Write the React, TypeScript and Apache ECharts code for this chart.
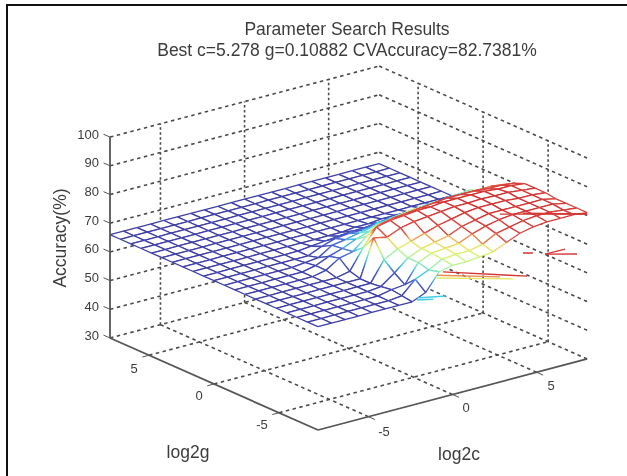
import React, { useEffect, useRef } from "react";
import * as echarts from "echarts";

const cGrid = [-8, -7.2, -6.4, -5.6, -4.8, -4, -3.2, -2.4, -1.6, -0.8, 0, 0.8, 1.6, 2.4, 3.2, 4, 4.8, 5.6, 6.4, 7.2, 8];
const gGrid = [-8, -7.2, -6.4, -5.6, -4.8, -4, -3.2, -2.4, -1.6, -0.8, 0, 0.8, 1.6, 2.4, 3.2, 4, 4.8, 5.6, 6.4, 7.2, 8];
// accuracy[gIndex][cIndex]
const accuracy = [
  [66, 66, 66, 66, 66, 66, 66, 66, 68, 74, 75, 75, 75.5, 76, 78, 80, 81, 81.5, 81.5, 81.5, 81],
  [66, 66, 66, 66, 66, 66, 66, 66.5, 71, 73, 75.5, 76, 76, 77, 79.5, 80.5, 81.5, 82, 82, 81.5, 81],
  [66, 66, 66, 66, 66, 66, 66, 67, 67.5, 74, 76, 76.5, 77, 79, 80.5, 81.5, 82, 82, 82, 82, 81],
  [66, 66, 66, 66, 66, 66, 66, 66.5, 70, 74, 76, 77, 78, 80, 81, 82, 82, 82, 82, 82, 81],
  [66, 66, 66, 66, 66, 66, 66, 66, 73, 75.5, 77, 78.5, 80, 81, 82, 82.5, 82.5, 82.5, 82, 82, 81.5],
  [66, 66, 66, 66, 66, 66, 66, 66, 79, 78, 80, 81, 81.5, 82, 82.5, 82.5, 82.7, 82.5, 82.5, 82, 81.5],
  [66, 66, 66, 66, 66, 66, 66, 67, 74, 80, 81, 81.5, 82, 82, 82.5, 82.5, 82.5, 82.5, 82, 82, 81.5],
  [66, 66, 66, 66, 66, 66, 67, 70, 71, 75, 78, 79, 79.5, 80, 80.5, 81, 81, 81, 80.5, 80.5, 80],
  [66, 66, 66, 66, 66, 66, 67, 69, 70.5, 72.5, 74, 75, 76, 77, 77.5, 78, 78.5, 78.5, 78.5, 78.5, 78],
  [66, 66, 66, 66, 66, 66, 66.5, 67, 70, 70.8, 71.8, 72.7, 73.5, 74.4, 75, 75, 75.5, 75.5, 75.5, 75.5, 75],
  [66, 66, 66, 66, 66, 66, 66, 66, 68, 69.5, 70, 70, 71, 71.5, 72, 72.5, 73, 73, 73.5, 74, 72],
  [66, 66, 66, 66, 66, 66, 66, 66, 66.5, 67, 67.5, 68, 68, 68.5, 69, 69, 70, 70, 71, 71, 69],
  [66, 66, 66, 66, 66, 66, 66, 66, 66, 66, 66, 66, 66.5, 66.5, 67, 67, 67, 67, 67, 67, 67],
  [66, 66, 66, 66, 66, 66, 66, 66, 66, 66, 66, 66, 66, 66, 66, 66, 66, 66, 66, 66, 66],
  [66, 66, 66, 66, 66, 66, 66, 66, 66, 66, 66, 66, 66, 66, 66, 66, 66, 66, 66, 66, 66],
  [66, 66, 66, 66, 66, 66, 66, 66, 66, 66, 66, 66, 66, 66, 66, 66, 66, 66, 66, 66, 66],
  [66, 66, 66, 66, 66, 66, 66, 66, 66, 66, 66, 66, 66, 66, 66, 66, 66, 66, 66, 66, 66],
  [66, 66, 66, 66, 66, 66, 66, 66, 66, 66, 66, 66, 66, 66, 66, 66, 66, 66, 66, 66, 66],
  [66, 66, 66, 66, 66, 66, 66, 66, 66, 66, 66, 66, 66, 66, 66, 66, 66, 66, 66, 66, 66],
  [66, 66, 66, 66, 66, 66, 66, 66, 66, 66, 66, 66, 66, 66, 66, 66, 66, 66, 66, 66, 66],
  [66, 66, 66, 66, 66, 66, 66, 66, 66, 66, 66, 66, 66, 66, 66, 66, 66, 66, 66, 66, 66],
];
// stray mesh pieces: c1, g1, z1, c2, g2, z2, colour value
const strayPieces = [
  [-0.57, -8, 73.6, 4.43, -8, 64.4, 82],
  [-0.93, -8, 73, 2.82, -8, 66.6, 78],
  [-0.93, -8, 72, 3.6, -8, 64.7, 76.4],
  [-2.11, -8, 66.9, -0.39, -8, 64.9, 72],
  [-2.11, -8, 66.2, -1.16, -8, 65, 72],
  [4.19, -8, 72.8, 4.78, -8, 71.9, 82.7],
  [5.5, -8, 70.4, 6.69, -8, 70.3, 82],
  [5.5, -8, 70.4, 7.4, -8, 67.5, 82],
  [4.67, -5.6, 80.8, 8, -8, 80.5, 82],
  [6.04, -5.6, 79, 8, -8, 80.5, 82],
];
const zTicks = [30, 40, 50, 60, 70, 80, 90, 100];
const cTicks = [-5, 0, 5];
const gTicks = [-5, 0, 5];
const LO = -8;
const HI = 8;
const zMin = 30;
const zMax = 100;
const titleLines = ["Parameter Search Results", "Best c=5.278 g=0.10882 CVAccuracy=82.7381%"];

const project = (c: number, g: number, z: number): number[] => {
  const a = c - LO;
  const b = g - LO;
  return [318 + a * 16.82 - b * 13, 430 - a * 4.44 - b * 5.75 - (z - zMin) * 2.87];
};

const colorStops: [number, number[]][] = [
  [0, [62, 62, 165]],
  [0.25, [72, 96, 208]],
  [0.37, [70, 215, 230]],
  [0.5, [168, 240, 170]],
  [0.6, [225, 242, 106]],
  [0.68, [240, 200, 90]],
  [0.76, [226, 80, 72]],
  [1, [208, 48, 48]],
];
const meshColor = (z: number): string => {
  const t = Math.max(0, Math.min(1, (z - 66) / 16.7));
  for (let k = 1; k < colorStops.length; k++) {
    const [t1, c1] = colorStops[k];
    const [t0, c0] = colorStops[k - 1];
    if (t <= t1) {
      const f = (t - t0) / (t1 - t0);
      const m = c0.map((v, n) => Math.round(v + (c1[n] - v) * f));
      return `rgb(${m[0]},${m[1]},${m[2]})`;
    }
  }
  return "rgb(208,48,48)";
};

// wall and floor guide lines: c1,g1,z1,c2,g2,z2,kind (0 dashed, 1 dotted vertical)
const buildGuides = (): number[][] => {
  const out: number[][] = [];
  zTicks.forEach((z) => {
    out.push([LO, HI, z, HI, HI, z, 0]);
    out.push([HI, HI, z, HI, LO, z, 0]);
  });
  cTicks.forEach((c) => {
    out.push([c, HI, zMin, c, HI, zMax, 1]);
    out.push([c, LO, zMin, c, HI, zMin, 0]);
  });
  gTicks.forEach((g) => {
    out.push([HI, g, zMin, HI, g, zMax, 1]);
    out.push([LO, g, zMin, HI, g, zMin, 0]);
  });
  return out;
};

// axes and tick marks: c1,g1,z1,c2,g2,z2,kind (0 axis, 1 tick)
const buildAxes = (): number[][] => {
  const out: number[][] = [
    [LO, HI, zMin, LO, HI, zMax, 0],
    [LO, HI, zMin, LO, LO, zMin, 0],
    [LO, LO, zMin, HI, LO, zMin, 0],
  ];
  zTicks.forEach((z) => out.push([LO, HI, z, LO, HI + 0.5, z, 1]));
  cTicks.forEach((c) => out.push([c, LO, zMin, c, LO - 0.5, zMin, 1]));
  gTicks.forEach((g) => out.push([LO, g, zMin, LO - 0.4, g, zMin, 1]));
  return out;
};

const buildCells = (): number[][] => {
  const out: number[][] = [];
  for (let sum = cGrid.length + gGrid.length - 4; sum >= 0; sum--) {
    for (let i = 0; i < cGrid.length - 1; i++) {
      const j = sum - i;
      if (j >= 0 && j < gGrid.length - 1) out.push([i, j]);
    }
  }
  return out;
};

const segRender = (styleOf: (v: number) => any) => (_p: any, api: any) => {
  const a = project(api.value(0), api.value(1), api.value(2));
  const b = project(api.value(3), api.value(4), api.value(5));
  const p1 = api.coord(a);
  const p2 = api.coord(b);
  return {
    type: "line",
    silent: true,
    shape: { x1: p1[0], y1: p1[1], x2: p2[0], y2: p2[1] },
    style: styleOf(api.value(6)),
  };
};

// edges that climb steeply shade from the colour of one end to the other
const edgeStroke = (p: number[], q: number[], zp: number, zq: number): any => {
  if (Math.abs(zp - zq) < 3) return meshColor((zp + zq) / 2);
  const steps = [0, 0.25, 0.5, 0.75, 1];
  return new echarts.graphic.LinearGradient(
    p[0],
    p[1],
    q[0],
    q[1],
    steps.map((s) => ({ offset: s, color: meshColor(zp + (zq - zp) * s) })),
    true
  );
};

const cellRender = (_p: any, api: any) => {
  const i = api.value(0);
  const j = api.value(1);
  const idx = [
    [i, j],
    [i + 1, j],
    [i + 1, j + 1],
    [i, j + 1],
  ];
  const zs = idx.map(([u, v]) => accuracy[v][u]);
  const pts = idx.map(([u, v]) => api.coord(project(cGrid[u], gGrid[v], accuracy[v][u])));
  const children: any[] = [
    { type: "polygon", silent: true, shape: { points: pts }, style: { fill: "#ffffff", stroke: null } },
  ];
  for (let k = 0; k < 4; k++) {
    const n = (k + 1) % 4;
    children.push({
      type: "line",
      silent: true,
      shape: { x1: pts[k][0], y1: pts[k][1], x2: pts[n][0], y2: pts[n][1] },
      style: { stroke: edgeStroke(pts[k], pts[n], zs[k], zs[n]), lineWidth: 1.3, fill: null },
    });
  }
  return { type: "group", children };
};

const textEl = (text: string, x: number, y: number, size: number, align = "center", extra: any = {}) => ({
  type: "text",
  x,
  y,
  silent: true,
  ...extra,
  style: {
    text,
    fill: "#3c3c3c",
    fontFamily: '"Liberation Sans", Arial, sans-serif',
    fontSize: size,
    textAlign: align,
    textVerticalAlign: "middle",
  },
});

export default function App() {
  const ref = useRef<HTMLDivElement>(null);
  useEffect(() => {
    const chart = echarts.init(ref.current as HTMLDivElement, undefined, { renderer: "svg" });
    const gLabelPos: Record<number, number[]> = { 5: [134, 368], 0: [199, 395], [-5]: [262, 424] };
    const cLabelPos: Record<number, number[]> = { 5: [551, 385], 0: [466, 407], [-5]: [384, 431] };
    chart.setOption({
      animation: false,
      backgroundColor: "#ffffff",
      grid: { left: 0, top: 0, width: 588, height: 476 },
      xAxis: { type: "value", min: 0, max: 588, show: false },
      yAxis: { type: "value", min: 0, max: 476, inverse: true, show: false },
      graphic: [
        { type: "rect", silent: true, shape: { x: 6, y: 4, width: 621, height: 2 }, style: { fill: "#111" } },
        { type: "rect", silent: true, shape: { x: 6, y: 4, width: 2, height: 472 }, style: { fill: "#111" } },
        textEl(titleLines[0], 347, 29, 17.5),
        textEl(titleLines[1], 347, 50, 17.5),
        ...zTicks.map((z) => textEl(String(z), 99, project(LO, HI, z)[1] - 3, 13, "right")),
        ...gTicks.map((g) => textEl(String(g), gLabelPos[g][0], gLabelPos[g][1], 13)),
        ...cTicks.map((c) => textEl(String(c), cLabelPos[c][0], cLabelPos[c][1], 13)),
        textEl("log2g", 188, 452, 17.5),
        textEl("log2c", 459, 454, 17.5),
        textEl("Accuracy(%)", 60, 238, 17.5, "center", { rotation: Math.PI / 2 }),
      ],
      series: [
        {
          type: "custom",
          clip: true,
          silent: true,
          data: buildGuides(),
          renderItem: segRender((kind) => ({
            stroke: "#4a4a4a",
            lineWidth: 1.6,
            lineDash: kind === 1 ? [2.5, 2.5] : [3.5, 3.5],
            fill: null,
          })),
        },
        { type: "custom", clip: true, silent: true, data: buildCells(), renderItem: cellRender },
        {
          type: "custom",
          clip: true,
          silent: true,
          data: strayPieces,
          renderItem: segRender((tone) => ({ stroke: meshColor(tone), lineWidth: 1.4, fill: null })),
        },
        {
          type: "custom",
          clip: true,
          silent: true,
          data: buildAxes(),
          renderItem: segRender((kind) => ({ stroke: "#555555", lineWidth: kind === 0 ? 1.8 : 1, fill: null })),
        },
      ],
    });
    return () => chart.dispose();
  }, []);
  return (
    <div
      ref={ref}
      style={{ position: "fixed", left: 0, top: 0, width: 627, height: 476, filter: "blur(0.6px)" }}
    />
  );
}
